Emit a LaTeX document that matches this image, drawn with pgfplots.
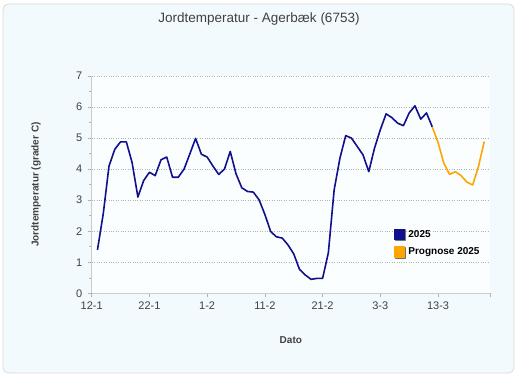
\documentclass[border=0pt]{standalone}
\usepackage{fontspec}
\setmainfont{Liberation Sans}
\usepackage{pgfplots}
\pgfplotsset{compat=1.18}
\definecolor{panel}{RGB}{243,250,253}
\definecolor{plotbg}{RGB}{251,254,255}
\definecolor{navy}{RGB}{16,16,140}
\definecolor{prog}{RGB}{255,165,0}
\definecolor{txt}{RGB}{64,64,64}
\begin{document}
\begin{tikzpicture}[x=1pt,y=1pt]
\path (0,0) rectangle (518,376);
\draw[rounded corners=6pt, draw=black!15, fill=panel, line width=0.8pt] (3,3) rectangle (514,372);
\node[text=txt, font=\fontsize{13.5}{15}\selectfont] at (259,357) {Jordtemperatur - Agerbæk (6753)};
\begin{axis}[
  at={(91.7pt,82.7pt)}, anchor=south west,
  scale only axis, width=398.3pt, height=217.3pt,
  xmin=0, xmax=69, ymin=0, ymax=7,
  axis background/.style={fill=plotbg},
  axis lines*=left,
  axis line style={draw=black!20, line width=0.6pt},
  xtick={0,10,20,30,40,50,60,69},
  xticklabels={12-1,22-1,1-2,11-2,21-2,3-3,13-3,{}},
  ytick={0,1,...,7},
  minor y tick num=1,
  tick align=outside,
  major tick length=4pt, minor tick length=2.5pt,
  tick style={draw=black!30, line width=0.5pt},
  ymajorgrids,
  major grid style={dotted, draw=black!30, line width=0.5pt},
  /pgf/number format/assume math mode=true,
  tick label style={font=\fontsize{11}{13}\selectfont, text=txt},
  xticklabel style={yshift=-1pt},
  yticklabel style={xshift=-2pt},
  xlabel={Dato}, ylabel={Jordtemperatur (grader C)},
  xlabel style={at={(axis description cs:0.5,-0.216)}, anchor=center, font=\bfseries\fontsize{10}{12}\selectfont, text=txt},
  ylabel style={at={(axis description cs:-0.14,0.5)}, anchor=center, rotate=0, font=\bfseries\fontsize{10}{12}\selectfont, text=txt},
  legend style={at={(axis description cs:0.75,0.31)}, anchor=north west, draw=none, fill=none,
    font=\bfseries\fontsize{10}{12}\selectfont, row sep=5pt, cells={anchor=west}},
  legend cell align=left,
]
\addplot[navy, line width=1.6pt, line join=round,
  legend image code/.code={\fill[black!55] (1.2pt,-5.8pt) rectangle (11.2pt,4.2pt); \fill[navy] (0pt,-5pt) rectangle (10pt,5pt);}]
coordinates {
(1,1.40)(2,2.56)(3,4.10)(4,4.64)(5,4.88)(6,4.88)(7,4.21)(8,3.10)(9,3.63)(10,3.90)
(11,3.79)(12,4.30)(13,4.39)(14,3.74)(15,3.74)(16,4.00)(17,4.49)(18,4.99)(19,4.48)(20,4.39)
(21,4.10)(22,3.83)(23,4.00)(24,4.57)(25,3.85)(26,3.40)(27,3.28)(28,3.26)(29,3.01)(30,2.54)
(31,1.99)(32,1.82)(33,1.78)(34,1.56)(35,1.27)(36,0.77)(37,0.59)(38,0.45)(39,0.48)(40,0.48)
(41,1.31)(42,3.33)(43,4.35)(44,5.08)(45,5.00)(46,4.73)(47,4.46)(48,3.92)(49,4.68)(50,5.27)
(51,5.78)(52,5.66)(53,5.48)(54,5.40)(55,5.81)(56,6.04)(57,5.61)(58,5.81)(59,5.36)
};
\addlegendentry{2025}
\addplot[prog, line width=1.6pt, line join=round,
  legend image code/.code={\fill[black!55] (1.2pt,-5.8pt) rectangle (11.2pt,4.2pt); \fill[prog] (0pt,-5pt) rectangle (10pt,5pt);}]
coordinates {
(59,5.36)(60,4.86)(61,4.19)(62,3.83)(63,3.92)(64,3.79)(65,3.58)(66,3.49)(67,4.08)(68,4.89)
};
\addlegendentry{Prognose 2025}
\end{axis}
\end{tikzpicture}
\end{document}
